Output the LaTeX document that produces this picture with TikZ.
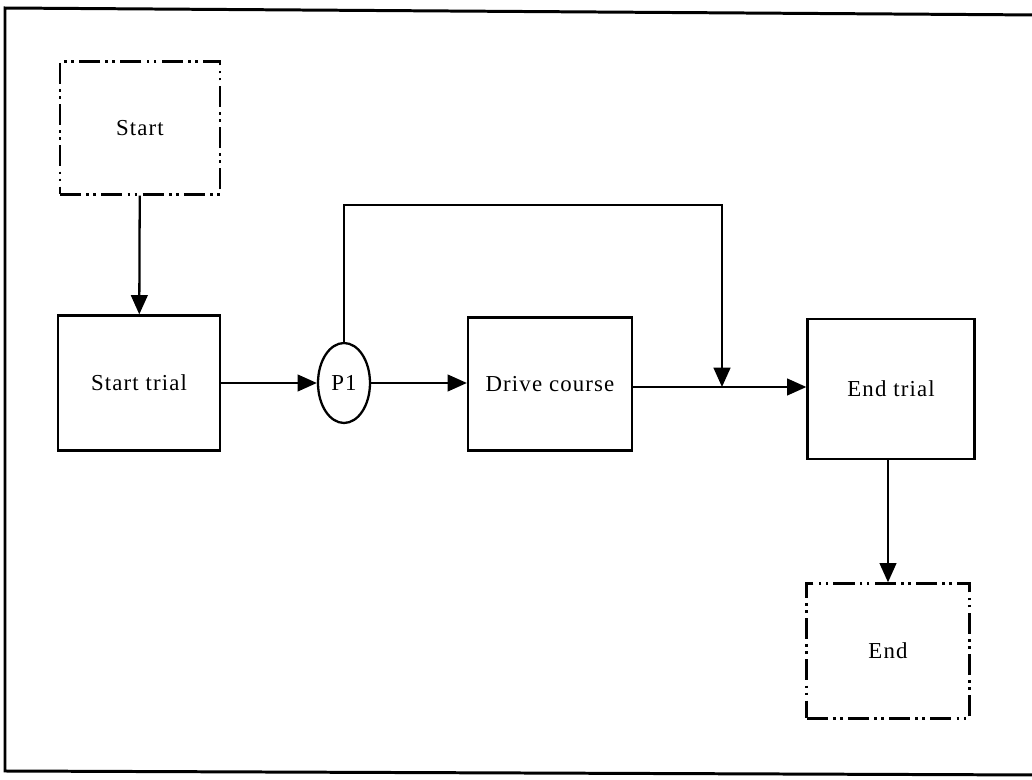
\documentclass[tikz,border=0pt]{standalone}
\usepackage{fontspec}
\setmainfont{Liberation Serif}[LetterSpace=5]
\usetikzlibrary{arrows.meta,shapes.geometric}

\begin{document}
\begin{tikzpicture}[
  x=0.02cm, y=-0.02cm,
  font=\fontsize{13}{15}\selectfont,
  box/.style={draw, line width=1.3pt, inner sep=0pt},
  term/.style={draw, line width=1.3pt, inner sep=0pt,
    dash pattern=on 12pt off 3pt on 1.5pt off 2.5pt on 1.5pt off 3pt},
  arrow/.style={-{Triangle[length=11pt,width=9.5pt]}, line width=1.3pt}
]
\useasboundingbox (0,0) rectangle (1032,780);

% frame
\draw[line width=1.7pt] (1040,15) -- (5,8) -- (5,771) -- (1040,775);

\node[term, minimum width=3.2cm, minimum height=2.66cm] (start) at (140,128) {Start};
\node[box, minimum width=3.24cm, minimum height=2.7cm] (trial) at (139,383) {Start trial};
\node[draw, ellipse, line width=1.3pt, inner sep=0pt,
  minimum width=1.04cm, minimum height=1.6cm] (p1) at (344,383) {P1};
\node[box, minimum width=3.28cm, minimum height=2.66cm] (drive) at (550,384) {Drive course};
\node[box, minimum width=3.34cm, minimum height=2.8cm] (endtrial) at (891,389) {End trial};
\node[term, minimum width=3.26cm, minimum height=2.7cm] (stop) at (888,651) {End};

\coordinate (loop) at (722,205);
\coordinate (jn) at (722,387);

\draw[arrow] (start) -- (trial);
\draw[arrow] (trial.east |- p1) -- (p1);
\draw[arrow] (p1) -- (drive.west |- p1);
\draw[arrow] (drive.east |- jn) -- (endtrial.west |- jn);
\draw[arrow] (p1.north) |- (loop) -- (jn);
\draw[arrow] (endtrial.south -| stop) -- (stop);

\end{tikzpicture}
\end{document}
